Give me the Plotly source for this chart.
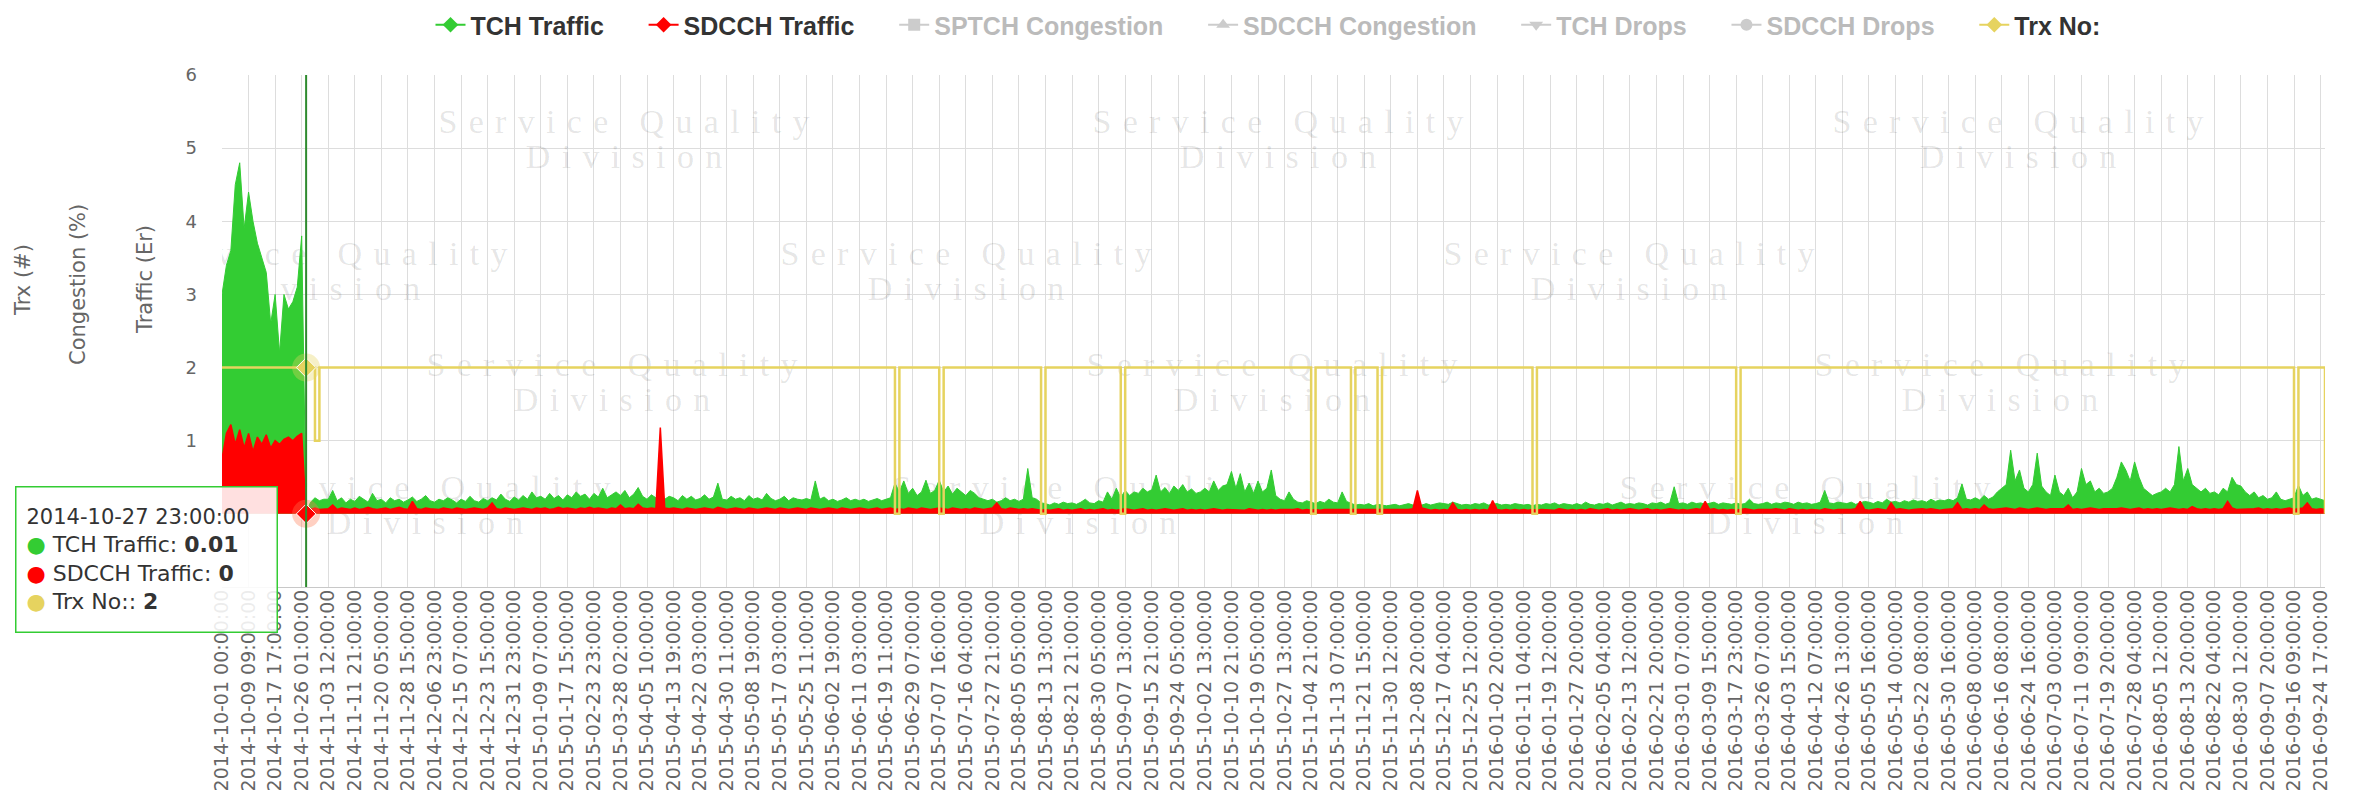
import plotly.graph_objects as go

# ---------------- data ----------------
tick_labels = [
    "2014-10-01 00:00:00", "2014-10-09 09:00:00", "2014-10-17 17:00:00", "2014-10-26 01:00:00",
    "2014-11-03 12:00:00", "2014-11-11 21:00:00", "2014-11-20 05:00:00", "2014-11-28 15:00:00",
    "2014-12-06 23:00:00", "2014-12-15 07:00:00", "2014-12-23 15:00:00", "2014-12-31 23:00:00",
    "2015-01-09 07:00:00", "2015-01-17 15:00:00", "2015-02-23 23:00:00", "2015-03-28 02:00:00",
    "2015-04-05 10:00:00", "2015-04-13 19:00:00", "2015-04-22 03:00:00", "2015-04-30 11:00:00",
    "2015-05-08 19:00:00", "2015-05-17 03:00:00", "2015-05-25 11:00:00", "2015-06-02 19:00:00",
    "2015-06-11 03:00:00", "2015-06-19 11:00:00", "2015-06-29 07:00:00", "2015-07-07 16:00:00",
    "2015-07-16 04:00:00", "2015-07-27 21:00:00", "2015-08-05 05:00:00", "2015-08-13 13:00:00",
    "2015-08-21 21:00:00", "2015-08-30 05:00:00", "2015-09-07 13:00:00", "2015-09-15 21:00:00",
    "2015-09-24 05:00:00", "2015-10-02 13:00:00", "2015-10-10 21:00:00", "2015-10-19 05:00:00",
    "2015-10-27 13:00:00", "2015-11-04 21:00:00", "2015-11-13 07:00:00", "2015-11-21 15:00:00",
    "2015-11-30 12:00:00", "2015-12-08 20:00:00", "2015-12-17 04:00:00", "2015-12-25 12:00:00",
    "2016-01-02 20:00:00", "2016-01-11 04:00:00", "2016-01-19 12:00:00", "2016-01-27 20:00:00",
    "2016-02-05 04:00:00", "2016-02-13 12:00:00", "2016-02-21 20:00:00", "2016-03-01 07:00:00",
    "2016-03-09 15:00:00", "2016-03-17 23:00:00", "2016-03-26 07:00:00", "2016-04-03 15:00:00",
    "2016-04-12 07:00:00", "2016-04-26 13:00:00", "2016-05-05 16:00:00", "2016-05-14 00:00:00",
    "2016-05-22 08:00:00", "2016-05-30 16:00:00", "2016-06-08 00:00:00", "2016-06-16 08:00:00",
    "2016-06-24 16:00:00", "2016-07-03 00:00:00", "2016-07-11 09:00:00", "2016-07-19 20:00:00",
    "2016-07-28 04:00:00", "2016-08-05 12:00:00", "2016-08-13 20:00:00", "2016-08-22 04:00:00",
    "2016-08-30 12:00:00", "2016-09-07 20:00:00", "2016-09-16 09:00:00", "2016-09-24 17:00:00",
]

points_per_tick = 6  # samples drawn between two consecutive labelled categories

tch_traffic = [
    3.0, 3.4, 3.6, 4.5, 4.8, 3.9,
    4.4, 4.0, 3.7, 3.5, 3.3, 2.6,
    3.0, 2.2, 3.0, 2.8, 2.9, 3.1,
    3.8, 0.01, 0.16, 0.22, 0.18, 0.2,
    0.2, 0.32, 0.18, 0.22, 0.15, 0.2,
    0.17, 0.24, 0.2, 0.16, 0.28, 0.18,
    0.2, 0.15, 0.22, 0.18, 0.2, 0.16,
    0.19, 0.23, 0.17, 0.2, 0.25, 0.18,
    0.16, 0.2, 0.18, 0.22, 0.19, 0.15,
    0.2, 0.17, 0.24, 0.18, 0.16, 0.21,
    0.18, 0.22, 0.19, 0.27, 0.2, 0.17,
    0.23, 0.19, 0.25, 0.2, 0.3, 0.22,
    0.24, 0.2, 0.28, 0.21, 0.25, 0.19,
    0.26, 0.22, 0.3, 0.24, 0.27, 0.2,
    0.28, 0.23, 0.35, 0.22, 0.26, 0.3,
    0.25, 0.32, 0.22, 0.27, 0.36, 0.24,
    0.2, 0.26, 0.22, 0.25, 0.2, 0.24,
    0.22, 0.18, 0.25, 0.2, 0.24, 0.19,
    0.21, 0.26, 0.2, 0.23, 0.42, 0.2,
    0.19, 0.24, 0.2, 0.22, 0.18, 0.25,
    0.2, 0.22, 0.19, 0.28, 0.21, 0.18,
    0.2, 0.24, 0.18, 0.22, 0.2, 0.19,
    0.21, 0.19, 0.45, 0.2, 0.23, 0.18,
    0.2, 0.17, 0.19, 0.22, 0.18, 0.2,
    0.18, 0.2, 0.17, 0.19, 0.21, 0.18,
    0.2, 0.22, 0.42, 0.3, 0.45, 0.28,
    0.35, 0.25, 0.3, 0.46, 0.28, 0.32,
    0.46, 0.3, 0.38, 0.27, 0.35, 0.3,
    0.25, 0.32, 0.28, 0.22, 0.2, 0.18,
    0.2, 0.16, 0.18, 0.22, 0.18, 0.2,
    0.17, 0.2, 0.62, 0.22, 0.2, 0.15,
    0.14, 0.12, 0.15, 0.13, 0.16, 0.14,
    0.15, 0.13, 0.16, 0.2, 0.15, 0.14,
    0.18, 0.16, 0.3, 0.2, 0.35, 0.22,
    0.32, 0.25, 0.3, 0.28, 0.35, 0.3,
    0.33, 0.53, 0.3, 0.36, 0.28, 0.38,
    0.32, 0.4, 0.3, 0.34, 0.28, 0.3,
    0.35, 0.3, 0.45, 0.32, 0.38, 0.4,
    0.58, 0.35, 0.55, 0.3, 0.42, 0.28,
    0.45, 0.3, 0.35, 0.6, 0.25, 0.2,
    0.18, 0.3, 0.2, 0.16, 0.15, 0.18,
    0.16, 0.14, 0.17, 0.15, 0.2, 0.16,
    0.15, 0.3, 0.17, 0.14, 0.12, 0.13,
    0.12, 0.14, 0.11, 0.13, 0.12, 0.11,
    0.12, 0.13, 0.11, 0.12, 0.14, 0.12,
    0.13, 0.12, 0.14, 0.12, 0.13, 0.15,
    0.14, 0.13, 0.16, 0.14, 0.12, 0.13,
    0.12, 0.14, 0.13, 0.15, 0.12, 0.13,
    0.14, 0.12, 0.13, 0.12, 0.14, 0.13,
    0.12, 0.13, 0.11, 0.13, 0.12, 0.14,
    0.13, 0.15, 0.12, 0.14, 0.13, 0.12,
    0.14, 0.12, 0.16, 0.13, 0.12, 0.14,
    0.13, 0.15, 0.12, 0.14, 0.16, 0.13,
    0.14, 0.13, 0.15, 0.14, 0.12, 0.15,
    0.14, 0.16, 0.13, 0.15, 0.37, 0.14,
    0.15, 0.13, 0.16, 0.14, 0.15, 0.13,
    0.14, 0.16, 0.13, 0.15, 0.14, 0.13,
    0.15, 0.13, 0.14, 0.2, 0.14, 0.13,
    0.14, 0.16, 0.13, 0.15, 0.14, 0.16,
    0.15, 0.13, 0.16, 0.14, 0.15, 0.13,
    0.14, 0.16, 0.32, 0.15, 0.14, 0.16,
    0.15, 0.14, 0.16, 0.13, 0.15, 0.17,
    0.16, 0.14, 0.17, 0.15, 0.2, 0.16,
    0.17, 0.15, 0.18, 0.16, 0.19, 0.17,
    0.18, 0.16, 0.2, 0.17, 0.19, 0.18,
    0.2, 0.18, 0.22, 0.41, 0.2, 0.19,
    0.22, 0.19, 0.25, 0.2, 0.23, 0.3,
    0.35, 0.4, 0.87, 0.45, 0.6, 0.35,
    0.3, 0.4, 0.83, 0.38, 0.3, 0.25,
    0.53, 0.3, 0.25, 0.35, 0.22, 0.3,
    0.62, 0.4, 0.45, 0.3, 0.35, 0.28,
    0.3, 0.35, 0.5, 0.71, 0.6, 0.45,
    0.71, 0.5, 0.35, 0.3, 0.25, 0.28,
    0.3, 0.35, 0.3, 0.4, 0.92, 0.45,
    0.62, 0.4, 0.35, 0.3, 0.35, 0.28,
    0.3, 0.26, 0.35, 0.3, 0.5, 0.4,
    0.38, 0.3, 0.25, 0.3, 0.22, 0.25,
    0.2, 0.22, 0.3, 0.2, 0.18, 0.2,
    0.22, 0.39, 0.25, 0.3, 0.2, 0.22,
    0.2, 0.18,
]

sdcch_traffic = [
    0.75, 1.1, 1.22, 0.95, 1.15, 0.9,
    1.1, 0.85, 1.05, 0.95, 1.08, 0.9,
    1.0, 0.95, 1.02, 1.05, 1.0, 1.06,
    1.1, 0.0, 0.06, 0.08, 0.06, 0.07,
    0.07, 0.12, 0.06, 0.08, 0.07, 0.06,
    0.08, 0.06, 0.07, 0.09, 0.07, 0.06,
    0.07, 0.08, 0.06, 0.07, 0.09, 0.07,
    0.06, 0.17, 0.07, 0.06, 0.08, 0.07,
    0.07, 0.06, 0.08, 0.07, 0.06, 0.08,
    0.07, 0.06, 0.07, 0.08, 0.07, 0.06,
    0.08, 0.15, 0.07, 0.06, 0.08, 0.07,
    0.06, 0.07, 0.08, 0.07, 0.06, 0.08,
    0.07, 0.08, 0.06, 0.07, 0.09, 0.07,
    0.08, 0.07, 0.06, 0.08, 0.07, 0.09,
    0.07, 0.08, 0.07, 0.06, 0.08, 0.07,
    0.12, 0.07, 0.08, 0.07, 0.13, 0.08,
    0.07, 0.08, 0.07, 1.18, 0.08, 0.07,
    0.08, 0.07, 0.06, 0.08, 0.07, 0.06,
    0.07, 0.08, 0.07, 0.06, 0.09, 0.07,
    0.06, 0.07, 0.08, 0.07, 0.06, 0.08,
    0.07, 0.06, 0.07, 0.08, 0.07, 0.06,
    0.08, 0.07, 0.06, 0.07, 0.08, 0.07,
    0.06, 0.08, 0.07, 0.06, 0.07, 0.08,
    0.07, 0.06, 0.08, 0.07, 0.06, 0.07,
    0.08, 0.07, 0.06, 0.07, 0.08, 0.06,
    0.07, 0.08, 0.06, 0.07, 0.06, 0.08,
    0.07, 0.06, 0.08, 0.07, 0.06, 0.07,
    0.08, 0.07, 0.06, 0.08, 0.07, 0.06,
    0.07, 0.06, 0.08, 0.07, 0.06, 0.07,
    0.08, 0.15, 0.07, 0.06, 0.08, 0.07,
    0.06, 0.07, 0.06, 0.07, 0.06, 0.05,
    0.06, 0.05, 0.06, 0.07, 0.05, 0.06,
    0.05, 0.06, 0.07, 0.05, 0.06, 0.05,
    0.06, 0.07, 0.05, 0.06, 0.05, 0.06,
    0.07, 0.06, 0.05, 0.06, 0.07, 0.05,
    0.06, 0.05, 0.06, 0.07, 0.06, 0.05,
    0.06, 0.07, 0.05, 0.06, 0.05, 0.06,
    0.05, 0.06, 0.07, 0.06, 0.05, 0.06,
    0.06, 0.05, 0.06, 0.05, 0.07, 0.06,
    0.05, 0.06, 0.05, 0.06, 0.05, 0.06,
    0.06, 0.05, 0.06, 0.07, 0.05, 0.06,
    0.05, 0.06, 0.05, 0.06, 0.06, 0.05,
    0.06, 0.05, 0.06, 0.05, 0.06, 0.05,
    0.05, 0.06, 0.05, 0.06, 0.05, 0.06,
    0.06, 0.05, 0.06, 0.05, 0.06, 0.07,
    0.32, 0.08, 0.06, 0.05, 0.06, 0.05,
    0.06, 0.05, 0.15, 0.06, 0.05, 0.06,
    0.05, 0.06, 0.05, 0.06, 0.05, 0.18,
    0.06, 0.05, 0.06, 0.05, 0.06, 0.05,
    0.06, 0.05, 0.06, 0.05, 0.06, 0.06,
    0.06, 0.05, 0.07, 0.06, 0.05, 0.06,
    0.05, 0.06, 0.05, 0.07, 0.06, 0.05,
    0.06, 0.07, 0.05, 0.06, 0.05, 0.06,
    0.07, 0.06, 0.05, 0.06, 0.07, 0.05,
    0.06, 0.05, 0.06, 0.07, 0.06, 0.05,
    0.06, 0.05, 0.06, 0.07, 0.06, 0.17,
    0.06, 0.07, 0.05, 0.06, 0.05, 0.06,
    0.05, 0.06, 0.07, 0.06, 0.05, 0.06,
    0.06, 0.05, 0.06, 0.07, 0.06, 0.05,
    0.07, 0.06, 0.05, 0.06, 0.05, 0.06,
    0.06, 0.05, 0.07, 0.06, 0.05, 0.06,
    0.06, 0.05, 0.06, 0.07, 0.17, 0.06,
    0.05, 0.06, 0.07, 0.06, 0.05, 0.15,
    0.06, 0.07, 0.06, 0.05, 0.06, 0.07,
    0.07, 0.06, 0.07, 0.06, 0.05, 0.06,
    0.06, 0.07, 0.15, 0.06, 0.07, 0.06,
    0.07, 0.06, 0.12, 0.07, 0.06, 0.07,
    0.07, 0.08, 0.07, 0.06, 0.08, 0.07,
    0.06, 0.07, 0.08, 0.07, 0.06, 0.07,
    0.07, 0.06, 0.07, 0.12, 0.06, 0.07,
    0.06, 0.07, 0.08, 0.07, 0.06, 0.07,
    0.07, 0.06, 0.07, 0.08, 0.07, 0.06,
    0.07, 0.08, 0.06, 0.07, 0.06, 0.07,
    0.06, 0.07, 0.08, 0.07, 0.06, 0.07,
    0.06, 0.1, 0.07, 0.06, 0.07, 0.06,
    0.07, 0.06, 0.07, 0.17, 0.08, 0.06,
    0.06, 0.07, 0.06, 0.07, 0.08, 0.06,
    0.07, 0.06, 0.07, 0.06, 0.07, 0.08,
    0.06, 0.07, 0.08, 0.15, 0.07, 0.06,
    0.07, 0.06,
]

trx_no = [
    2, 2, 2, 2, 2, 2,
    2, 2, 2, 2, 2, 2,
    2, 2, 2, 2, 2, 2,
    2, 2, 2, 1, 2, 2,
    2, 2, 2, 2, 2, 2,
    2, 2, 2, 2, 2, 2,
    2, 2, 2, 2, 2, 2,
    2, 2, 2, 2, 2, 2,
    2, 2, 2, 2, 2, 2,
    2, 2, 2, 2, 2, 2,
    2, 2, 2, 2, 2, 2,
    2, 2, 2, 2, 2, 2,
    2, 2, 2, 2, 2, 2,
    2, 2, 2, 2, 2, 2,
    2, 2, 2, 2, 2, 2,
    2, 2, 2, 2, 2, 2,
    2, 2, 2, 2, 2, 2,
    2, 2, 2, 2, 2, 2,
    2, 2, 2, 2, 2, 2,
    2, 2, 2, 2, 2, 2,
    2, 2, 2, 2, 2, 2,
    2, 2, 2, 2, 2, 2,
    2, 2, 2, 2, 2, 2,
    2, 2, 2, 2, 2, 2,
    2, 2, 2, 2, 2, 2,
    2, 2, 0, 2, 2, 2,
    2, 2, 2, 2, 2, 2,
    0, 2, 2, 2, 2, 2,
    2, 2, 2, 2, 2, 2,
    2, 2, 2, 2, 2, 2,
    2, 2, 2, 2, 2, 0,
    2, 2, 2, 2, 2, 2,
    2, 2, 2, 2, 2, 2,
    2, 2, 2, 2, 2, 0,
    2, 2, 2, 2, 2, 2,
    2, 2, 2, 2, 2, 2,
    2, 2, 2, 2, 2, 2,
    2, 2, 2, 2, 2, 2,
    2, 2, 2, 2, 2, 2,
    2, 2, 2, 2, 2, 2,
    2, 2, 2, 2, 2, 2,
    0, 2, 2, 2, 2, 2,
    2, 2, 2, 0, 2, 2,
    2, 2, 2, 0, 2, 2,
    2, 2, 2, 2, 2, 2,
    2, 2, 2, 2, 2, 2,
    2, 2, 2, 2, 2, 2,
    2, 2, 2, 2, 2, 2,
    2, 2, 2, 2, 2, 2,
    2, 2, 0, 2, 2, 2,
    2, 2, 2, 2, 2, 2,
    2, 2, 2, 2, 2, 2,
    2, 2, 2, 2, 2, 2,
    2, 2, 2, 2, 2, 2,
    2, 2, 2, 2, 2, 2,
    2, 2, 2, 2, 2, 2,
    2, 2, 2, 2, 2, 2,
    0, 2, 2, 2, 2, 2,
    2, 2, 2, 2, 2, 2,
    2, 2, 2, 2, 2, 2,
    2, 2, 2, 2, 2, 2,
    2, 2, 2, 2, 2, 2,
    2, 2, 2, 2, 2, 2,
    2, 2, 2, 2, 2, 2,
    2, 2, 2, 2, 2, 2,
    2, 2, 2, 2, 2, 2,
    2, 2, 2, 2, 2, 2,
    2, 2, 2, 2, 2, 2,
    2, 2, 2, 2, 2, 2,
    2, 2, 2, 2, 2, 2,
    2, 2, 2, 2, 2, 2,
    2, 2, 2, 2, 2, 2,
    2, 2, 2, 2, 2, 2,
    2, 2, 2, 2, 2, 2,
    2, 2, 2, 2, 2, 2,
    2, 2, 2, 2, 2, 2,
    2, 2, 2, 2, 2, 2,
    2, 2, 2, 2, 2, 2,
    0, 2, 2, 2, 2, 2,
    2, 0,
]

hover_index = 19                      # sample under the tooltip
hover_label = "2014-10-27 23:00:00"

legend_names = ["TCH Traffic", "SDCCH Traffic", "SPTCH Congestion", "SDCCH Congestion",
                "TCH Drops", "SDCCH Drops", "Trx No:"]
legend_active = [True, True, False, False, False, False, True]

# ---------------- styling ----------------
TCH_COLOR = "#33cc33"
SDCCH_COLOR = "#ff0000"
TRX_COLOR = "#e6d35f"
HIDDEN_COLOR = "#cccccc"
legend_symbols = ["diamond", "diamond", "square", "triangle-up", "triangle-down", "circle", "diamond"]
legend_colors = [TCH_COLOR, SDCCH_COLOR, HIDDEN_COLOR, HIDDEN_COLOR, HIDDEN_COLOR, HIDDEN_COLOR, TRX_COLOR]

PAGE_W, PAGE_H = 2357, 807
BODY = 8                          # default page margin around the figure div
W, H = PAGE_W - 2 * BODY, PAGE_H - 2 * BODY
PL, PT, PW, PH = 222, 75, 2103, 512   # plot area in page pixels
ML, MT = PL - BODY, PT - BODY
MR = W - ML - PW
MB = H - MT - PH
Y_MIN, Y_MAX = -1, 6
AXIS_FONT = "DejaVu Sans, Verdana, sans-serif"


def paper_x(px):
    return (px - PL) / PW


def paper_y(py):
    return 1 - (py - PT) / PH


n = len(tch_traffic)
x_pos = [i / points_per_tick for i in range(n)]
x_max = x_pos[-1]


def data_x(px):
    return (px - PL) / PW * x_max


def data_y(py):
    return Y_MAX - (py - PT) / PH * (Y_MAX - Y_MIN)


fig = go.Figure()

# watermark (drawn first so the data sits on top), two lines per block
wm_centers = [(624, 141), (1278, 141), (2018, 141),
              (322, 273), (966, 273), (1629, 273), (2351, 273),
              (612, 384), (1272, 384), (2000, 384),
              (425, 507), (1078, 507), (1805, 507), (2437, 507)]
sp = "\u2004"
for words, dy in [("Service Quality", -17), ("Division", 18)]:
    fig.add_trace(go.Scatter(
        x=[data_x(c[0]) for c in wm_centers], y=[data_y(c[1] + dy) for c in wm_centers],
        mode="text", text=[sp.join(words)] * len(wm_centers),
        textfont=dict(family="Liberation Serif, DejaVu Serif, serif", size=34,
                      color="rgba(0,0,0,0.11)"),
        showlegend=False, hoverinfo="skip", cliponaxis=True))

fig.add_trace(go.Scatter(
    x=x_pos, y=tch_traffic, mode="lines", line=dict(color=TCH_COLOR, width=1),
    fill="tozeroy", fillcolor=TCH_COLOR, showlegend=False, hoverinfo="skip"))
fig.add_trace(go.Scatter(
    x=x_pos, y=sdcch_traffic, mode="lines", line=dict(color=SDCCH_COLOR, width=1.5),
    fill="tozeroy", fillcolor=SDCCH_COLOR, showlegend=False, hoverinfo="skip"))
fig.add_trace(go.Scatter(
    x=x_pos, y=trx_no, mode="lines", line=dict(color=TRX_COLOR, width=2.5, shape="hv"),
    showlegend=False, hoverinfo="skip"))

# hovered point markers with halos
hx = x_pos[hover_index]
for val, col, halo in [(sdcch_traffic[hover_index], SDCCH_COLOR, "rgba(255,120,80,0.35)"),
                       (trx_no[hover_index], TRX_COLOR, "rgba(230,211,95,0.35)")]:
    fig.add_trace(go.Scatter(x=[hx], y=[val], mode="markers",
                             marker=dict(symbol="circle", size=28, color=halo),
                             showlegend=False, hoverinfo="skip", cliponaxis=False))
    fig.add_trace(go.Scatter(x=[hx], y=[val], mode="markers",
                             marker=dict(symbol="diamond", size=15, color=col,
                                         line=dict(color="white", width=1)),
                             showlegend=False, hoverinfo="skip", cliponaxis=False))

# legend entries
pad = "\u00a0" * 5
for i, (name, sym, col, active) in enumerate(zip(legend_names, legend_symbols, legend_colors, legend_active)):
    tcol = "#333333" if active else "#bbbbbb"
    tail = pad if i < len(legend_names) - 1 else ""
    fig.add_trace(go.Scatter(
        x=[None], y=[None], mode="lines+markers",
        name=f"<span style='color:{tcol}'>{name}</span>{tail}",
        line=dict(color=col, width=2), marker=dict(symbol=sym, size=12, color=col),
        hoverinfo="skip"))

# crosshair
fig.add_shape(type="line", xref="x", yref="paper", x0=hx, x1=hx, y0=0, y1=1,
              line=dict(color="#2e8b2e", width=2), layer="above")


def fmt(v):
    return f"{v:g}"


tip = (f"<span style='font-size:21px'>{hover_label}</span><br>"
       f"<span style='color:{TCH_COLOR}'>●</span> TCH Traffic: <b>{fmt(tch_traffic[hover_index])}</b><br>"
       f"<span style='color:{SDCCH_COLOR}'>●</span> SDCCH Traffic: <b>{fmt(sdcch_traffic[hover_index])}</b><br>"
       f"<span style='color:{TRX_COLOR}'>●</span> Trx No:: <b>{fmt(trx_no[hover_index])}</b>")
annotations = [dict(
    xref="paper", yref="paper", x=paper_x(15), y=paper_y(486), xanchor="left", yanchor="top",
    text=tip, showarrow=False, align="left", valign="middle",
    width=240, height=124, borderpad=10,
    bgcolor="rgba(255,255,255,0.88)", bordercolor=TCH_COLOR, borderwidth=1.5,
    font=dict(family=AXIS_FONT, size=22, color="#333333"))]

# stacked y-axis titles
for text, px, py in [("Traffic (Er)", 145, 280), ("Congestion (%)", 78, 285), ("Trx (#)", 23, 280)]:
    annotations.append(dict(
        xref="paper", yref="paper", x=paper_x(px), y=paper_y(py), xanchor="center", yanchor="middle",
        text=text, textangle=-90, showarrow=False,
        font=dict(family=AXIS_FONT, size=21, color="#666666")))

fig.update_layout(
    width=W, height=H,
    margin=dict(l=ML, r=MR, t=MT, b=MB, autoexpand=False),
    paper_bgcolor="white", plot_bgcolor="white",
    showlegend=True,
    legend=dict(orientation="h", x=paper_x(1268), xanchor="center", y=paper_y(25), yanchor="middle",
                font=dict(family="Liberation Sans, Arial, sans-serif",
                          size=25, color="#333333", weight="bold"),
                itemclick=False, itemdoubleclick=False),
    xaxis=dict(range=[0, x_max], tickmode="array", tickvals=list(range(len(tick_labels))),
               ticktext=tick_labels, tickangle=-90, showgrid=True, gridcolor="#dddddd",
               gridwidth=1, zeroline=False, showline=True, linecolor="#c8c8c8", ticks="",
               ticklabelstandoff=-6,
               tickfont=dict(family=AXIS_FONT, size=19, color="#666666"), automargin=False),
    yaxis=dict(range=[Y_MIN, Y_MAX], tickmode="array", tickvals=[1, 2, 3, 4, 5, 6],
               showgrid=True, gridcolor="#dddddd", zeroline=False, showline=False, ticks="",
               ticklabelstandoff=24,
               tickfont=dict(family=AXIS_FONT, size=18, color="#666666"), automargin=False),
    annotations=annotations,
    hovermode=False,
)

fig.write_html("out.html")
